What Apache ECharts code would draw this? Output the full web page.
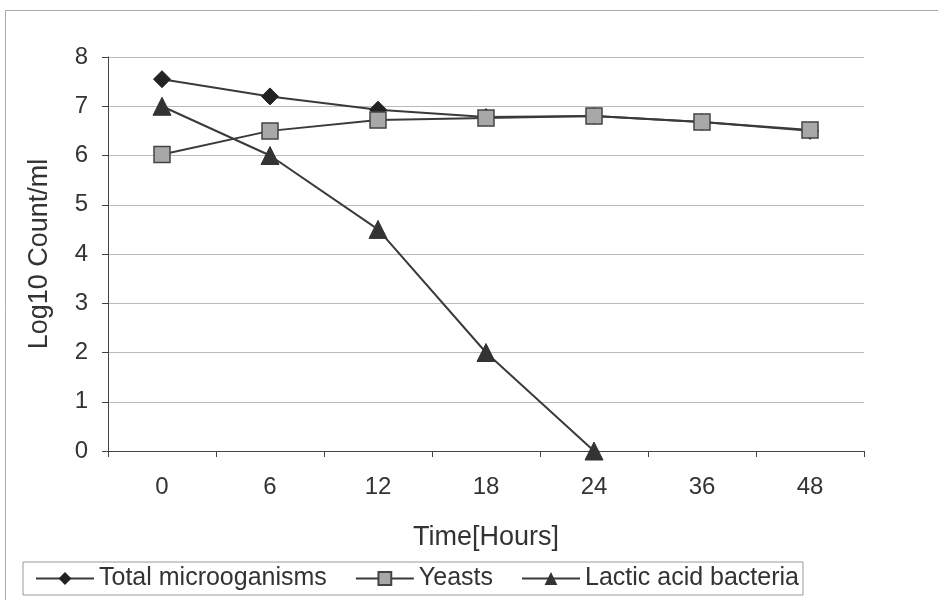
<!DOCTYPE html>
<html><head><meta charset="utf-8">
<script src="https://cdn.jsdelivr.net/npm/echarts@6/dist/echarts.min.js"></script>
<style>html,body{margin:0;padding:0;background:#fff}#c{width:938px;height:600px}</style>
</head><body><div id="c"></div>
<script>
var categories = ['0','6','12','18','24','36','48'];
var totalMicro = [7.55, 7.2, 6.93, 6.78, 6.8, 6.68, 6.5];
var yeasts = [6.02, 6.5, 6.72, 6.76, 6.8, 6.68, 6.52];
var lab = [7.0, 6.0, 4.5, 2.0, 0, null, null];
var yTicks = [0, 8, 1];

var chart = echarts.init(document.getElementById('c'));
var font = 'Liberation Sans, Arial, sans-serif';
chart.setOption({
  animation: false,
  textStyle: {fontFamily: font},
  graphic: [{type: 'rect', shape: {x: 5.5, y: 10.5, width: 940, height: 600}, style: {fill: 'none', stroke: '#aaa', lineWidth: 1}}],
  grid: {left: 108, right: 74, top: 57, bottom: 149, containLabel: false},
  xAxis: {
    type: 'category', data: categories, boundaryGap: true,
    name: 'Time[Hours]', nameLocation: 'middle', nameGap: 73,
    nameTextStyle: {fontSize: 27, color: '#333', fontFamily: font},
    axisLine: {lineStyle: {color: '#444', width: 1}},
    axisTick: {show: true, length: 6, lineStyle: {color: '#444'}},
    axisLabel: {fontSize: 24, color: '#333', margin: 24, fontFamily: font}
  },
  yAxis: {
    type: 'value', min: yTicks[0], max: yTicks[1], interval: yTicks[2],
    name: 'Log10 Count/ml', nameLocation: 'middle', nameGap: 55,
    nameTextStyle: {fontSize: 27, color: '#333', fontFamily: font},
    axisLine: {show: true, lineStyle: {color: '#444'}},
    axisTick: {show: true, length: 6, lineStyle: {color: '#444'}},
    axisLabel: {fontSize: 24, color: '#333', margin: 20, fontFamily: font},
    splitLine: {lineStyle: {color: '#bbb', width: 1}}
  },
  legend: {
    left: 23, top: 562, padding: [4, 4, 4, 12], itemGap: 28,
    itemWidth: 58, itemHeight: 16,
    borderColor: '#999', borderWidth: 1,
    textStyle: {fontSize: 25, color: '#333', fontFamily: font},
    data: ['Total microoganisms', 'Yeasts', 'Lactic acid bacteria']
  },
  series: [
    {name: 'Total microoganisms', type: 'line', data: totalMicro, symbol: 'diamond', symbolSize: 17,
     lineStyle: {color: '#3a3a3a', width: 2}, itemStyle: {color: '#222', borderColor: '#222'}, z: 2},
    {name: 'Yeasts', type: 'line', data: yeasts, symbol: 'rect', symbolSize: 16,
     lineStyle: {color: '#3a3a3a', width: 2}, itemStyle: {color: '#a8a8a8', borderColor: '#444', borderWidth: 1.5}, z: 3},
    {name: 'Lactic acid bacteria', type: 'line', data: lab, symbol: 'triangle', symbolSize: 18,
     lineStyle: {color: '#3a3a3a', width: 2}, itemStyle: {color: '#333', borderColor: '#333'}, z: 2}
  ]
});
</script></body></html>
